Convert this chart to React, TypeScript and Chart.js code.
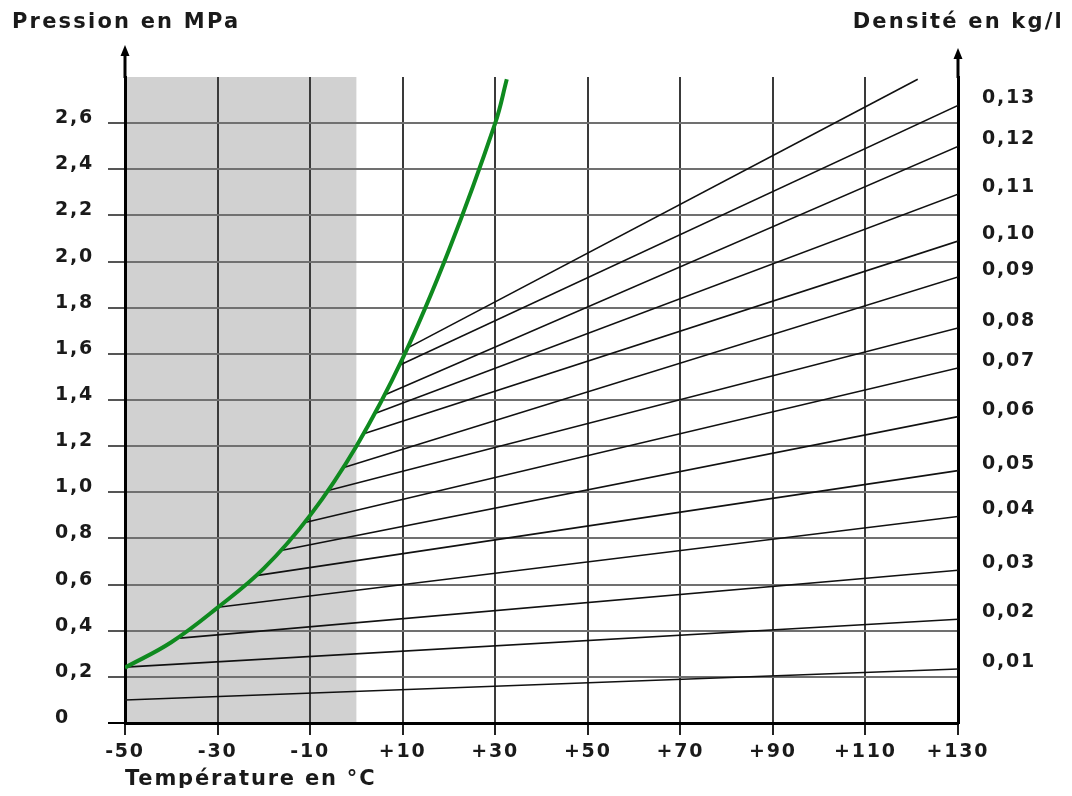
import { useEffect, useRef } from 'react';
import { Chart, registerables } from 'chart.js';

Chart.register(...registerables);

// ---- Data ----
const temperatureRange = [-50, 130];
const pressureRange = [0, 2.8];
const temperatureTicks = [-50, -30, -10, 10, 30, 50, 70, 90, 110, 130];
const temperatureLabels = ['-50', '-30', '-10', '+10', '+30', '+50', '+70', '+90', '+110', '+130'];
const pressureTicks = [0, 0.2, 0.4, 0.6, 0.8, 1.0, 1.2, 1.4, 1.6, 1.8, 2.0, 2.2, 2.4, 2.6];
const pressureLabels = ['0', '0,2', '0,4', '0,6', '0,8', '1,0', '1,2', '1,4', '1,6', '1,8', '2,0', '2,2', '2,4', '2,6'];

// saturated vapour pressure curve (green)
const vaporTemp = [-50, -40, -30, -20, -10, 0, 10, 20, 30, 32.5];
const vaporPressure = [0.24, 0.35, 0.5, 0.67, 0.9, 1.2, 1.58, 2.05, 2.6, 2.79];

// constant-density lines (start on the vapour curve, end on the right axis)
const isoStartTemp = [-50, -50, -38.1, -29.9, -21.3, -16.3, -11.1, -6.1, -2.7, 1.6, 4.0, 6.2, 9.4, 11.1];
const isoStartPressure = [0.1, 0.242, 0.368, 0.502, 0.64, 0.748, 0.869, 1.008, 1.107, 1.254, 1.341, 1.423, 1.552, 1.626];
const isoEndTemp = [130, 130, 130, 130, 130, 130, 130, 130, 130, 130, 130, 130, 130, 121.3];
const isoEndPressure = [0.234, 0.45, 0.662, 0.895, 1.094, 1.328, 1.539, 1.712, 1.933, 2.089, 2.292, 2.499, 2.677, 2.79];
const densityLabels = ['0,01', '0,02', '0,03', '0,04', '0,05', '0,06', '0,07', '0,08', '0,09', '0,10', '0,11', '0,12', '0,13'];

// shaded temperature zone
const shadedTemp = [-50, 0];

const FONT = '"DejaVu Sans", "Liberation Sans", sans-serif';
const TEXT = '#1a1a1a';

export default function App() {
  const ref = useRef<HTMLCanvasElement>(null);

  useEffect(() => {
    const canvas = ref.current;
    if (!canvas) return;

    const spacing = {
      id: 'spacing',
      beforeLayout(chart: any) {
        (chart.ctx as any).letterSpacing = '1.8px';
      },
      beforeDraw(chart: any) {
        (chart.ctx as any).letterSpacing = '1.8px';
      },
    };

    const shade = {
      id: 'shade',
      beforeDraw(chart: any) {
        const { ctx, chartArea, scales } = chart;
        const x0 = scales.x.getPixelForValue(shadedTemp[0]);
        const x1 = scales.x.getPixelForValue(shadedTemp[1]);
        ctx.save();
        ctx.fillStyle = '#d1d1d1';
        ctx.fillRect(x0, chartArea.top, x1 - x0, chartArea.bottom - chartArea.top);
        ctx.restore();
      },
    };

    const decor = {
      id: 'decor',
      afterDraw(chart: any) {
        const { ctx, chartArea, scales, width } = chart;
        const lx = scales.x.getPixelForValue(temperatureRange[0]);
        const rx = scales.x.getPixelForValue(temperatureRange[1]);
        const top = chartArea.top;
        const arrow = (x: number, len: number) => {
          ctx.save();
          ctx.strokeStyle = '#000';
          ctx.fillStyle = '#000';
          ctx.lineWidth = 3;
          ctx.beginPath();
          ctx.moveTo(x, top + 1);
          ctx.lineTo(x, top - len + 8);
          ctx.stroke();
          ctx.beginPath();
          ctx.moveTo(x, top - len);
          ctx.lineTo(x - 4.5, top - len + 11);
          ctx.lineTo(x + 4.5, top - len + 11);
          ctx.closePath();
          ctx.fill();
          ctx.restore();
        };
        arrow(lx, 32);
        arrow(rx, 29);

        ctx.save();
        (ctx as any).letterSpacing = '2.2px';
        ctx.font = `bold 21px ${FONT}`;
        ctx.fillStyle = TEXT;
        ctx.textBaseline = 'middle';
        ctx.textAlign = 'left';
        ctx.fillText('Pression en MPa', 4, 15);
        ctx.textAlign = 'right';
        ctx.fillText('Densité en kg/l', width - 2 + 2, 15);
        ctx.restore();
      },
    };

    const datasets: any[] = [
      {
        label: 'Pression de vapeur',
        data: vaporTemp.map((x, i) => ({ x, y: vaporPressure[i] })),
        borderColor: '#0f8a1f',
        borderWidth: 4,
        pointRadius: 0,
        tension: 0.4,
        fill: false,
      },
      ...isoStartTemp.map((t, i) => ({
        label: 'iso' + i,
        data: [
          { x: t, y: isoStartPressure[i] },
          { x: isoEndTemp[i], y: isoEndPressure[i] },
        ],
        borderColor: '#111',
        borderWidth: 1.6,
        pointRadius: 0,
        fill: false,
      })),
    ];

    const tickFont = { family: FONT, size: 19, weight: 'bold' as const };

    const chart = new Chart(canvas, {
      type: 'line',
      data: { datasets },
      plugins: [spacing, shade, decor],
      options: {
        animation: false,
        responsive: true,
        maintainAspectRatio: false,
        events: [],
        layout: { padding: { top: 69, left: 47, right: 0, bottom: 0 } },
        plugins: { legend: { display: false }, tooltip: { enabled: false } },
        scales: {
          x: {
            type: 'linear',
            min: temperatureRange[0],
            max: temperatureRange[1],
            afterBuildTicks: (s: any) => {
              s.ticks = temperatureTicks.map((v) => ({ value: v }));
            },
            afterFit: (s: any) => {
              s.height = 65;
            },
            grid: { color: '#3a3a3a', lineWidth: 2, tickLength: 12, tickColor: '#222' },
            border: { color: '#000', width: 3 },
            ticks: {
              autoSkip: false,
              maxRotation: 0,
              padding: 6,
              color: TEXT,
              font: tickFont,
              callback: (_v: any, i: number) => temperatureLabels[i],
            },
            title: {
              display: true,
              text: 'Température en °C',
              align: 'start',
              color: TEXT,
              font: { family: FONT, size: 21, weight: 'bold', lineHeight: 1 },
              padding: { top: 0, bottom: -2 },
            },
          },
          y: {
            type: 'linear',
            position: 'left',
            min: pressureRange[0],
            max: pressureRange[1],
            afterBuildTicks: (s: any) => {
              s.ticks = pressureTicks.map((v) => ({ value: v }));
            },
            afterFit: (s: any) => {
              s.width = 70;
            },
            grid: {
              color: '#707070',
              lineWidth: 2,
              tickLength: 17,
              tickColor: (c: any) => (c.tick && c.tick.value === 0 ? '#000' : '#555'),
            },
            border: { color: '#000', width: 3 },
            ticks: {
              autoSkip: false,
              crossAlign: 'far',
              labelOffset: -5,
              color: TEXT,
              font: tickFont,
              callback: (_v: any, i: number) => pressureLabels[i],
            },
          },
          y2: {
            type: 'linear',
            position: 'right',
            min: pressureRange[0],
            max: pressureRange[1],
            afterBuildTicks: (s: any) => {
              s.ticks = isoEndPressure.slice(0, densityLabels.length).map((v) => ({ value: v }));
            },
            afterFit: (s: any) => {
              s.width = 106;
            },
            grid: { display: false, drawOnChartArea: false, drawTicks: false },
            border: { display: true, color: '#000', width: 3 },
            ticks: {
              autoSkip: false,
              padding: 24,
              labelOffset: -7,
              color: TEXT,
              font: tickFont,
              callback: (_v: any, i: number) => densityLabels[i],
            },
          },
        },
      } as any,
    });

    return () => chart.destroy();
  }, []);

  return (
    <div style={{ width: 1056, height: 780, position: 'relative' }}>
      <canvas ref={ref} />
    </div>
  );
}
